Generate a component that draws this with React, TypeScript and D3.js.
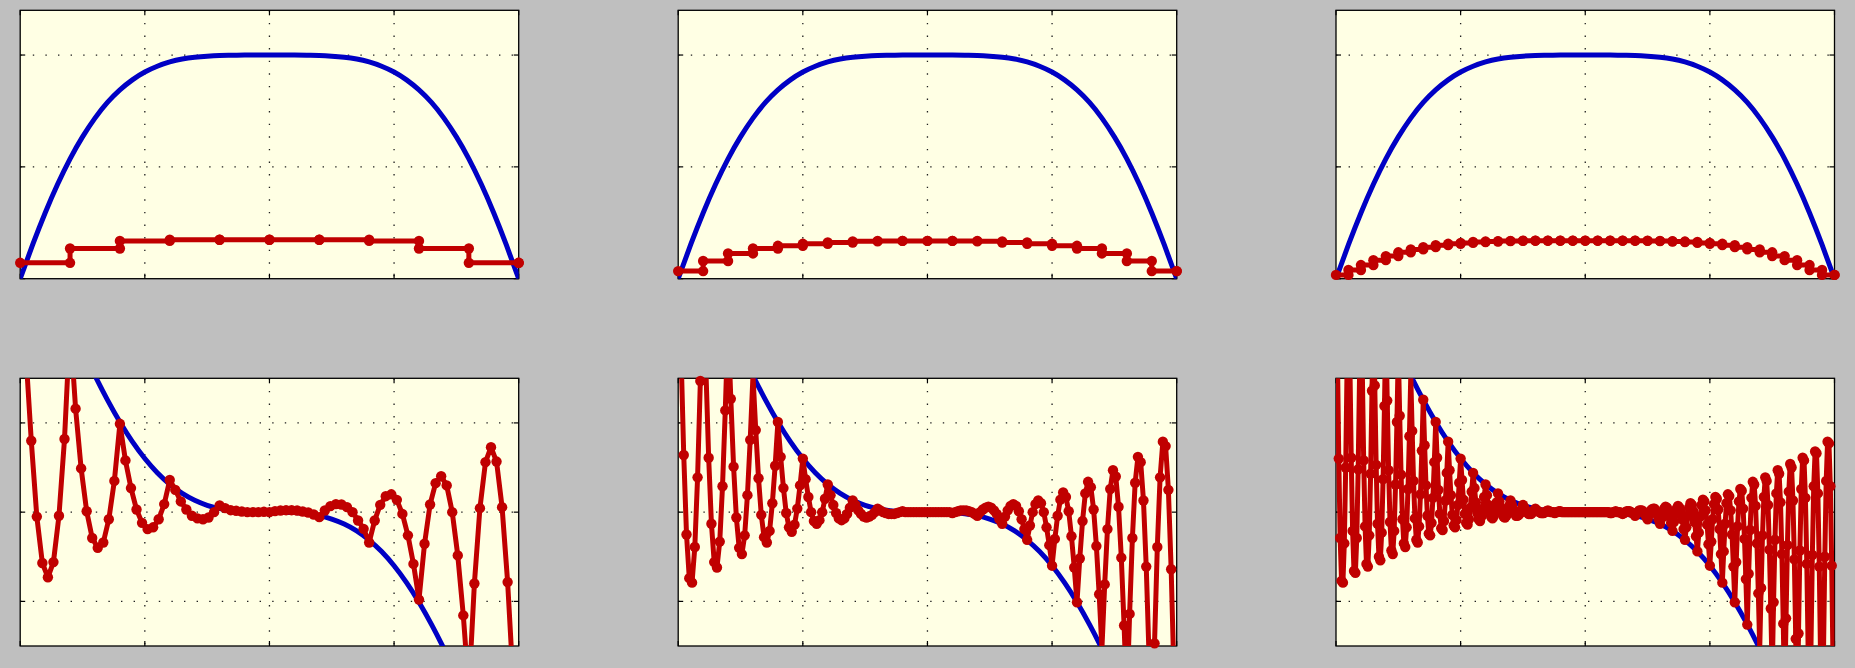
import React from 'react';
import * as d3 from 'd3';

// Axis ticks
const xTicks = [-1, -0.5, 0, 0.5, 1];
const topYTicks = [0, 0.5, 1];
const bottomYTicks = [-1, 0, 1];

// Exact profile and its slope, sampled every 0.05 on [-1, 1]
const profile = [
  0, 0.152, 0.294, 0.422, 0.536, 0.634, 0.718, 0.788, 0.844, 0.889,
  0.924, 0.95, 0.969, 0.982, 0.99, 0.995, 0.998, 0.999, 1.0, 1.0,
  1.0,
  1.0, 1.0, 0.999, 0.998, 0.995, 0.99, 0.982, 0.969, 0.95, 0.924,
  0.889, 0.844, 0.788, 0.718, 0.634, 0.536, 0.422, 0.294, 0.152, 0,
];
const profileSlope = [
  3.142, 2.95, 2.702, 2.421, 2.122, 1.821, 1.53, 1.258, 1.01, 0.79,
  0.601, 0.442, 0.313, 0.21, 0.133, 0.077, 0.039, 0.017, 0.005, 0.001,
  0,
  -0.001, -0.005, -0.017, -0.039, -0.077, -0.133, -0.21, -0.313, -0.442, -0.601,
  -0.79, -1.01, -1.258, -1.53, -1.821, -2.122, -2.421, -2.702, -2.95, -3.142,
];

// Coarse samples, held piecewise constant (11, 21 and 41 nodes)
const held11 = [0.071, 0.135, 0.169, 0.174, 0.174, 0.174, 0.174, 0.169, 0.135, 0.071, 0.071];
const held21 = [
  0.034, 0.079, 0.113, 0.135, 0.147, 0.156, 0.162, 0.167, 0.169, 0.169,
  0.169, 0.169, 0.167, 0.162, 0.156, 0.147, 0.135, 0.113, 0.079, 0.034,
  0.034,
];
const held41 = [
  0.017, 0.039, 0.061, 0.083, 0.101, 0.118, 0.131, 0.141, 0.15, 0.156,
  0.16, 0.164, 0.166, 0.168, 0.169, 0.17, 0.17, 0.17, 0.17, 0.17,
  0.17, 0.17, 0.17, 0.17, 0.17, 0.169, 0.168, 0.166, 0.164, 0.16,
  0.156, 0.15, 0.141, 0.131, 0.118, 0.101, 0.083, 0.061, 0.039, 0.017,
  0.017,
];

// Reconstructed slope on the fine grids (91, 181 and 361 nodes)
const slope91 = [
  3.14, 1.8, 0.8, -0.05, -0.57, -0.73, -0.56, -0.04, 0.82,
  2.1, 1.16, 0.49, 0.01, -0.29, -0.4, -0.34, -0.08, 0.35,
  0.99, 0.58, 0.27, 0.03, -0.12, -0.19, -0.17, -0.08, 0.09,
  0.36, 0.25, 0.12, 0.03, -0.04, -0.07, -0.08, -0.06, 0.0,
  0.075, 0.045, 0.022, 0.015, 0.007, 0.0, 0.0, 0.0, 0.004,
  0.0, 0.011, 0.019, 0.022, 0.022, 0.019, 0.007, -0.004, -0.026,
  -0.056, 0.019, 0.067, 0.09, 0.086, 0.056, 0.0, -0.093, -0.187,
  -0.34, -0.093, 0.082, 0.179, 0.2, 0.138, -0.02, -0.26, -0.58,
  -0.98, -0.354, 0.086, 0.325, 0.403, 0.3, 0.0, -0.485, -1.157,
  -2.0, -0.8, 0.045, 0.56, 0.728, 0.567, 0.056, -0.784, -1.9,
  -3.14,
];
const slope181 = [
  3.14, 1.81, 0.64, -0.25, -0.74, -0.79, -0.39, 0.39, 1.47,
  2.7, 1.6, 0.61, -0.13, -0.56, -0.62, -0.33, 0.29, 1.14,
  2.12, 1.27, 0.51, -0.06, -0.4, -0.47, -0.26, 0.19, 0.81,
  1.53, 0.92, 0.38, -0.03, -0.28, -0.34, -0.21, 0.1, 0.52,
  1.01, 0.62, 0.27, -0.01, -0.17, -0.22, -0.14, 0.04, 0.3,
  0.6, 0.37, 0.17, 0.0, -0.1, -0.13, -0.09, 0.0, 0.15,
  0.31, 0.19, 0.08, -0.01, -0.07, -0.09, -0.07, -0.02, 0.05,
  0.13, 0.08, 0.02, -0.02, -0.05, -0.06, -0.05, -0.03, 0.0,
  0.04, 0.02, 0.0, -0.01, -0.02, -0.02, -0.02, -0.01, 0.0,
  0.01, 0, 0, 0, 0, 0, 0, 0, 0,
  0, 0, 0, 0, 0, 0, 0, 0, 0,
  -0.01, 0.0, 0.01, 0.02, 0.02, 0.02, 0.01, 0.0, -0.02,
  -0.04, 0.0, 0.03, 0.05, 0.06, 0.05, 0.02, -0.02, -0.08,
  -0.13, -0.05, 0.02, 0.07, 0.09, 0.07, 0.01, -0.08, -0.19,
  -0.31, -0.15, 0.0, 0.09, 0.13, 0.1, 0.0, -0.17, -0.37,
  -0.6, -0.3, -0.04, 0.14, 0.22, 0.17, 0.01, -0.27, -0.62,
  -1.01, -0.52, -0.1, 0.21, 0.34, 0.28, 0.03, -0.38, -0.92,
  -1.53, -0.81, -0.19, 0.26, 0.47, 0.4, 0.06, -0.51, -1.27,
  -2.12, -1.14, -0.29, 0.33, 0.62, 0.56, 0.13, -0.61, -1.6,
  -2.7, -1.47, -0.39, 0.39, 0.79, 0.74, 0.25, -0.64, -1.81,
  -3.14,
];
const slope361 = [
  3.14, 1.79, 0.6, -0.29, -0.77, -0.79, -0.35, 0.5, 1.64,
  2.95, 1.71, 0.61, -0.21, -0.66, -0.68, -0.29, 0.48, 1.52,
  2.7, 1.58, 0.58, -0.16, -0.58, -0.61, -0.26, 0.43, 1.36,
  2.42, 1.42, 0.53, -0.13, -0.5, -0.54, -0.23, 0.37, 1.19,
  2.12, 1.25, 0.47, -0.11, -0.43, -0.47, -0.21, 0.31, 1.01,
  1.82, 1.08, 0.42, -0.08, -0.35, -0.39, -0.17, 0.26, 0.85,
  1.53, 0.91, 0.35, -0.07, -0.31, -0.34, -0.16, 0.2, 0.69,
  1.26, 0.75, 0.3, -0.04, -0.24, -0.26, -0.12, 0.16, 0.56,
  1.01, 0.61, 0.25, -0.02, -0.18, -0.2, -0.1, 0.13, 0.44,
  0.79, 0.47, 0.19, -0.03, -0.15, -0.17, -0.09, 0.08, 0.33,
  0.6, 0.36, 0.14, -0.02, -0.12, -0.14, -0.08, 0.05, 0.23,
  0.44, 0.27, 0.11, -0.01, -0.08, -0.1, -0.05, 0.04, 0.17,
  0.31, 0.19, 0.08, 0.0, -0.05, -0.07, -0.04, 0.02, 0.11,
  0.21, 0.12, 0.05, -0.01, -0.05, -0.06, -0.04, 0.01, 0.07,
  0.13, 0.08, 0.03, -0.01, -0.04, -0.04, -0.03, -0.01, 0.03,
  0.08, 0.05, 0.02, 0.0, -0.02, -0.02, -0.02, 0.0, 0.02,
  0.04, 0.02, 0.01, 0.0, -0.01, -0.01, -0.01, 0.0, 0.01,
  0.02, 0.01, 0.0, 0.0, 0.0, -0.01, 0.0, 0.0, 0.01,
  0.01, 0, 0, 0, 0, 0, 0, 0, 0,
  0, 0, 0, 0, 0, 0, 0, 0, 0,
  0, 0, 0, 0, 0, 0, 0, 0, 0,
  0, 0, 0, 0, 0, 0, 0, 0, 0,
  -0.01, -0.01, 0, 0, 0.01, 0, 0, 0, -0.01,
  -0.02, -0.01, 0, 0.01, 0.01, 0.01, 0, -0.01, -0.02,
  -0.04, -0.02, 0, 0.02, 0.02, 0.02, 0, -0.02, -0.05,
  -0.08, -0.03, 0.01, 0.03, 0.04, 0.04, 0.01, -0.03, -0.08,
  -0.13, -0.07, -0.01, 0.04, 0.06, 0.05, 0.01, -0.05, -0.12,
  -0.21, -0.11, -0.02, 0.04, 0.07, 0.05, 0.0, -0.08, -0.19,
  -0.31, -0.17, -0.04, 0.05, 0.1, 0.08, 0.01, -0.11, -0.27,
  -0.44, -0.23, -0.05, 0.08, 0.14, 0.12, 0.02, -0.14, -0.36,
  -0.6, -0.33, -0.08, 0.09, 0.17, 0.15, 0.03, -0.19, -0.47,
  -0.79, -0.44, -0.13, 0.1, 0.2, 0.18, 0.02, -0.25, -0.61,
  -1.01, -0.56, -0.16, 0.12, 0.26, 0.24, 0.04, -0.3, -0.75,
  -1.26, -0.69, -0.2, 0.16, 0.34, 0.31, 0.07, -0.35, -0.91,
  -1.53, -0.85, -0.26, 0.17, 0.39, 0.35, 0.08, -0.42, -1.08,
  -1.82, -1.01, -0.31, 0.21, 0.47, 0.43, 0.11, -0.47, -1.25,
  -2.12, -1.19, -0.37, 0.23, 0.54, 0.5, 0.13, -0.53, -1.42,
  -2.42, -1.36, -0.43, 0.26, 0.61, 0.58, 0.16, -0.58, -1.58,
  -2.7, -1.52, -0.48, 0.29, 0.68, 0.66, 0.21, -0.61, -1.71,
  -2.95, -1.64, -0.5, 0.35, 0.79, 0.77, 0.29, -0.6, -1.79,
  -3.14,
];

const BG = '#bfbfbf';
const PLOT_BG = '#ffffe4';
const BLUE = '#0000c4';
const RED = '#c00000';
const GRID = '#202020';

const W = 1855;
const H = 668;
const colX = [20.2, 678.2, 1336.0];
const plotW = 498.5;
const rowY = [10.3, 378.3];
const rowH = [268.4, 267.7];
const TICK = 5;
const MARKER_R = 5.2;
const LINE_W = 5;

const nodes = (n: number) => d3.range(n).map((i) => -1 + (2 * i) / (n - 1));

type PanelSpec = {
  id: string;
  col: number;
  row: number;
  values: number[];
  stairs: boolean;
};

const panels: PanelSpec[] = [
  { id: 'p11', col: 0, row: 0, values: held11, stairs: true },
  { id: 'p21', col: 1, row: 0, values: held21, stairs: true },
  { id: 'p41', col: 2, row: 0, values: held41, stairs: true },
  { id: 'd91', col: 0, row: 1, values: slope91, stairs: false },
  { id: 'd181', col: 1, row: 1, values: slope181, stairs: false },
  { id: 'd361', col: 2, row: 1, values: slope361, stairs: false },
];

function Panel({ spec }: { spec: PanelSpec }) {
  const x0 = colX[spec.col];
  const y0 = rowY[spec.row];
  const h = rowH[spec.row];
  const yDomain: [number, number] = spec.row === 0 ? [0, 1.2] : [-1.5, 1.5];
  const yTicks = spec.row === 0 ? topYTicks : bottomYTicks;

  const x = d3.scaleLinear().domain([-1, 1]).range([x0, x0 + plotW]);
  const y = d3.scaleLinear().domain(yDomain).range([y0 + h, y0]);

  const refX = nodes(41);
  const ref = spec.row === 0 ? profile : profileSlope;
  const refPath =
    d3
      .line<number>()
      .x((_, i) => x(refX[i]))
      .y((d) => y(d))
      .curve(d3.curveNatural)(ref) || '';

  const xs = nodes(spec.values.length);
  const vertices: [number, number][] = [];
  spec.values.forEach((v, i) => {
    if (spec.stairs && i > 0) vertices.push([xs[i], spec.values[i - 1]]);
    vertices.push([xs[i], v]);
  });
  const redPath =
    d3
      .line<[number, number]>()
      .x((d) => x(d[0]))
      .y((d) => y(d[1]))(vertices) || '';
  const shown = vertices.filter((d) => d[1] >= yDomain[0] && d[1] <= yDomain[1]);

  const clipId = `clip-${spec.id}`;
  return (
    <g>
      <defs>
        <clipPath id={clipId}>
          <rect x={x0} y={y0} width={plotW} height={h} />
        </clipPath>
      </defs>
      <rect x={x0} y={y0} width={plotW} height={h} fill={PLOT_BG} />
      {xTicks.slice(1, -1).map((t) => (
        <line
          key={`gx${t}`}
          x1={x(t)}
          x2={x(t)}
          y1={y0}
          y2={y0 + h}
          stroke={GRID}
          strokeWidth={1.3}
          strokeDasharray="1.4 11.2"
        />
      ))}
      {yTicks
        .filter((t) => t > yDomain[0] && t < yDomain[1])
        .map((t) => (
          <line
            key={`gy${t}`}
            x1={x0}
            x2={x0 + plotW}
            y1={y(t)}
            y2={y(t)}
            stroke={GRID}
            strokeWidth={1.3}
            strokeDasharray="1.4 11.2"
          />
        ))}
      {xTicks.map((t) => (
        <g key={`tx${t}`} stroke="#000" strokeWidth={1.2}>
          <line x1={x(t)} x2={x(t)} y1={y0 + h} y2={y0 + h - TICK} />
          <line x1={x(t)} x2={x(t)} y1={y0} y2={y0 + TICK} />
        </g>
      ))}
      {yTicks.map((t) => (
        <g key={`ty${t}`} stroke="#000" strokeWidth={1.2}>
          <line x1={x0} x2={x0 + TICK} y1={y(t)} y2={y(t)} />
          <line x1={x0 + plotW} x2={x0 + plotW - TICK} y1={y(t)} y2={y(t)} />
        </g>
      ))}
      <rect x={x0} y={y0} width={plotW} height={h} fill="none" stroke="#000" strokeWidth={1.3} />
      <g clipPath={`url(#${clipId})`}>
        <path d={refPath} fill="none" stroke={BLUE} strokeWidth={LINE_W} strokeLinejoin="round" />
        <path d={redPath} fill="none" stroke={RED} strokeWidth={LINE_W} strokeLinejoin="round" />
      </g>
      {shown.map((d, i) => (
        <circle key={i} cx={x(d[0])} cy={y(d[1])} r={MARKER_R} fill={RED} />
      ))}
    </g>
  );
}

export default function App() {
  return (
    <svg
      width={W}
      height={H}
      style={{ position: 'absolute', left: 0, top: 0, display: 'block' }}
    >
      <rect x={0} y={0} width={W} height={H} fill={BG} />
      {panels.map((p) => (
        <Panel key={p.id} spec={p} />
      ))}
    </svg>
  );
}
